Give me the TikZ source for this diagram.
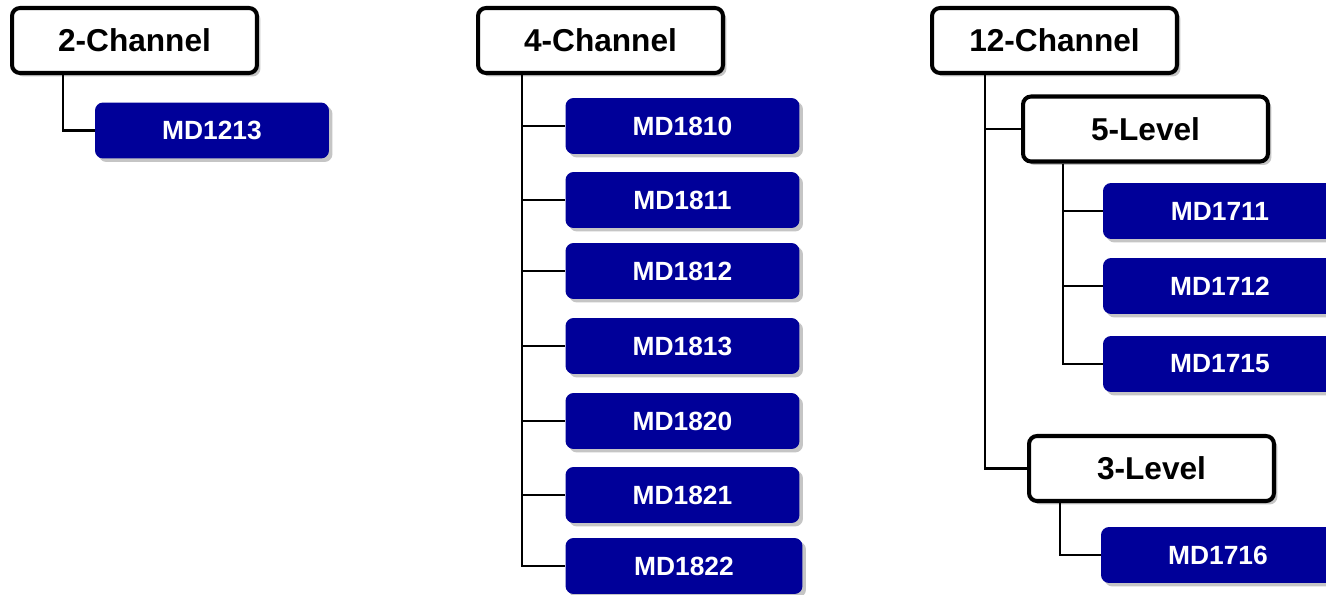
\documentclass[tikz,border=0pt]{standalone}
\usepackage{fontspec}
\setsansfont{Liberation Sans}
\usepackage{xcolor}
\usepackage{tikz}
\usetikzlibrary{positioning,calc,shadows}
\definecolor{partblue}{HTML}{000099}
\definecolor{shade}{HTML}{7F7F7F}

\begin{document}
\begin{tikzpicture}[x=0.02cm,y=-0.02cm,font=\sffamily\bfseries,
  group/.style={draw=black,line width=2.3pt,fill=white,rounded corners=0.16cm,
    minimum width=4.9cm,minimum height=1.3cm,font=\sffamily\bfseries\fontsize{18}{20}\selectfont,
    drop shadow={fill=shade,opacity=0.45,shadow xshift=0.07cm,shadow yshift=-0.07cm}},
  part/.style={fill=partblue,text=white,rounded corners=0.16cm,
    minimum width=4.68cm,minimum height=1.12cm,font=\sffamily\bfseries\fontsize{15}{17}\selectfont,
    drop shadow={fill=shade,opacity=0.45,shadow xshift=0.07cm,shadow yshift=-0.07cm}},
  link/.style={draw=black,line width=1.4pt}]

  % page
  \fill[white] (0,0) rectangle (1326,595);
  \useasboundingbox (0,0) rectangle (1326,595);

  % 2-channel
  \node[group] (ch2) at (134.5,40.5) {2-Channel};
  \node[part] (md1213) at (212,130.5) {MD1213};
  \draw[link] ($(ch2.south west)+(53,0)$) |- (md1213.west);

  % 4-channel
  \node[group] (ch4) at (600.5,40.5) {4-Channel};
  \foreach \n/\y in {1810/126,1811/200,1812/271,1813/346,1820/421,1821/495}
    \node[part] (md\n) at (682.5,\y) {MD\n};
  \node[part,minimum width=4.74cm] (md1822) at (684,566) {MD1822};
  \foreach \n in {1810,1811,1812,1813,1820,1821,1822}
    \draw[link] ($(ch4.south west)+(46,0)$) |- (md\n.west);

  % 12-channel
  \node[group] (ch12) at (1054.5,40.5) {12-Channel};
  \node[group] (lvl5) at (1145.5,129) {5-Level};
  \node[group] (lvl3) at (1151.5,468.5) {3-Level};
  \draw[link] ($(ch12.south west)+(55,0)$) |- (lvl5.west);
  \draw[link] ($(ch12.south west)+(55,0)$) |- (lvl3.west);

  \foreach \n/\y in {1711/211,1712/286,1715/364}
    \node[part] (md\n) at (1220,\y) {MD\n};
  \foreach \n in {1711,1712,1715}
    \draw[link] ($(lvl5.south west)+(42,0)$) |- (md\n.west);

  \node[part] (md1716) at (1218,555) {MD1716};
  \draw[link] ($(lvl3.south west)+(33,0)$) |- (md1716.west);

\end{tikzpicture}
\end{document}
